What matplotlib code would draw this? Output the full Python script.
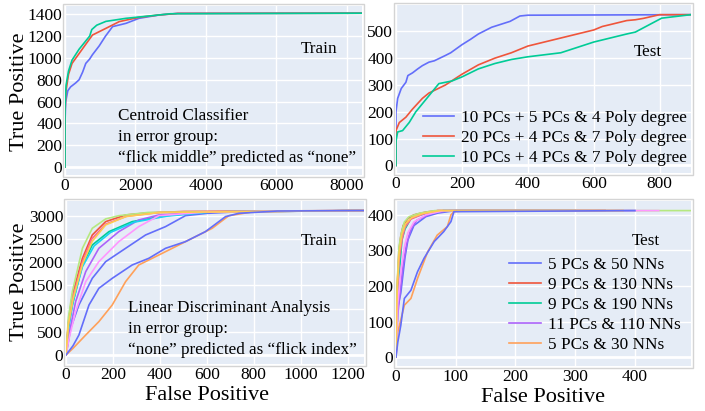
import matplotlib
matplotlib.use("Agg")
import matplotlib.pyplot as plt
from matplotlib.patches import Rectangle

plt.rcParams['font.family'] = ['Liberation Serif', 'DejaVu Serif']

# plotly-like palette
colors = ["#636EFA", "#EF553B", "#00CC96", "#AB63FA", "#FFA15A",
          "#19D3F3", "#FF6692", "#B6E880", "#FF97FF", "#FECB52", "#636EFA"]

# ---- top left: Centroid Classifier, train
cc_train_fp = [
    [0, 0, 20, 80, 160, 300, 400, 500, 590, 700, 780, 970, 1150, 1350, 1730, 2100, 2680, 3200, 8430],
    [0, 0, 30, 100, 200, 400, 600, 780, 1160, 1540, 2100, 2680, 3200, 8430],
    [0, 0, 30, 100, 200, 400, 600, 700, 760, 900, 1160, 1730, 2400, 3000, 8430],
]
cc_train_tp = [
    [0, 400, 600, 700, 735, 770, 800, 870, 950, 990, 1030, 1110, 1200, 1287, 1317, 1363, 1394, 1408, 1410],
    [0, 500, 700, 850, 950, 1040, 1130, 1210, 1271, 1333, 1372, 1394, 1408, 1410],
    [0, 550, 750, 880, 980, 1080, 1160, 1200, 1260, 1300, 1335, 1363, 1385, 1405, 1410],
]

# ---- top right: Centroid Classifier, test
cc_test_labels = ["10 PCs + 5 PCs & 4 Poly degree",
                  "20 PCs + 4 PCs & 7 Poly degree",
                  "10 PCs + 4 PCs & 7 Poly degree"]
cc_test_fp = [
    [0, 0, 5, 16, 30, 36, 50, 66, 80, 100, 116, 150, 166, 200, 226, 250, 266, 290, 346, 376, 400, 895],
    [0, 0, 10, 30, 50, 80, 100, 150, 200, 250, 300, 350, 400, 500, 600, 626, 650, 700, 726, 750, 800, 895],
    [0, 0, 5, 20, 40, 60, 80, 100, 120, 130, 170, 200, 250, 300, 350, 400, 500, 550, 600, 700, 726, 806, 895],
]
cc_test_tp = [
    [0, 200, 250, 287, 310, 335, 345, 360, 372, 385, 390, 410, 420, 450, 470, 490, 500, 515, 537, 557, 560, 562],
    [0, 130, 160, 180, 210, 250, 270, 300, 340, 375, 400, 420, 445, 475, 505, 518, 525, 540, 543, 548, 562, 562],
    [0, 90, 125, 130, 160, 200, 230, 260, 290, 305, 315, 330, 360, 380, 395, 405, 420, 440, 460, 490, 497, 549, 562],
]

# ---- bottom left: LDA, train
lda_train_fp = [
    [0, 20, 55, 112, 169, 254, 339, 424, 509, 600, 800, 1270],
    [0, 10, 27, 70, 112, 169, 254, 350, 500, 1270],
    [0, 10, 27, 70, 112, 183, 282, 424, 600, 1270],
    [0, 15, 41, 84, 140, 225, 310, 396, 600, 1270],
    [0, 30, 84, 140, 197, 254, 310, 396, 481, 566, 623, 694, 793, 1000, 1270],
    [0, 10, 30, 70, 120, 190, 290, 430, 620, 1270],
    [0, 10, 30, 70, 110, 170, 260, 400, 1270],
    [0, 10, 27, 70, 112, 169, 225, 350, 1270],
    [0, 15, 41, 84, 140, 225, 310, 396, 600, 1270],
    [0, 10, 30, 70, 112, 169, 254, 400, 1270],
    [0, 30, 55, 98, 140, 197, 282, 353, 424, 509, 594, 680, 737, 900, 1270],
]
lda_train_tp = [
    [0, 574, 1077, 1651, 2010, 2297, 2584, 2764, 3000, 3050, 3100, 3110],
    [0, 700, 1292, 2082, 2584, 2872, 3015, 3060, 3090, 3110],
    [0, 600, 1077, 1938, 2369, 2656, 2872, 3000, 3080, 3110],
    [0, 500, 1149, 1795, 2297, 2656, 2907, 3015, 3080, 3110],
    [0, 144, 430, 718, 1077, 1580, 1938, 2154, 2369, 2584, 2728, 3000, 3080, 3105, 3110],
    [0, 550, 1150, 1900, 2350, 2640, 2860, 2990, 3080, 3110],
    [0, 650, 1250, 2000, 2500, 2820, 2990, 3070, 3110],
    [0, 800, 1364, 2297, 2728, 2930, 3000, 3070, 3110],
    [0, 400, 933, 1580, 2010, 2441, 2764, 3000, 3080, 3110],
    [0, 650, 1200, 1950, 2450, 2800, 2980, 3070, 3110],
    [0, 200, 430, 1077, 1436, 1651, 1938, 2082, 2297, 2441, 2656, 2980, 3051, 3100, 3110],
]

# ---- bottom right: LDA, test
lda_test_labels = ["5 PCs & 50 NNs", "9 PCs & 130 NNs", "9 PCs & 190 NNs",
                   "11 PCs & 110 NNs", "5 PCs & 30 NNs"]
lda_test_fp = [
    [0, 3, 8, 15, 20, 30, 50, 70, 100, 400],
    [0, 2, 5, 8, 12, 20, 30, 50, 70, 300],
    [0, 3, 6, 10, 15, 25, 40, 80, 350],
    [0, 3, 8, 12, 18, 25, 35, 60, 90, 350],
    [0, 3, 14, 25, 36, 53, 69, 86, 92, 97, 120, 380],
    [0, 2, 6, 10, 16, 25, 45, 80, 300],
    [0, 2, 5, 10, 15, 25, 45, 70, 350],
    [0, 2, 5, 9, 14, 22, 40, 65, 494],
    [0, 3, 8, 14, 20, 30, 50, 80, 440],
    [0, 2, 5, 10, 16, 26, 45, 75, 380],
    [0, 3, 8, 14, 25, 36, 47, 64, 80, 92, 97, 400],
]
lda_test_tp = [
    [0, 140, 180, 280, 330, 370, 395, 405, 412, 412],
    [0, 200, 300, 340, 370, 390, 400, 408, 412, 412],
    [0, 200, 250, 330, 360, 390, 400, 412, 412],
    [0, 120, 200, 260, 320, 360, 385, 405, 412, 412],
    [0, 70, 146, 165, 221, 296, 343, 367, 400, 409, 412, 412],
    [0, 180, 280, 340, 370, 390, 402, 412, 412],
    [0, 170, 270, 330, 365, 388, 402, 412, 412],
    [0, 210, 310, 350, 380, 395, 405, 412, 412],
    [0, 150, 240, 310, 350, 380, 400, 412, 412],
    [0, 190, 290, 345, 375, 392, 404, 412, 412],
    [0, 42, 89, 165, 188, 240, 278, 325, 353, 381, 409, 412],
]

W, H = 705, 411
fig = plt.figure(figsize=(W / 100, H / 100), dpi=100)


def make_ax(x0, y0, x1, y1):
    # pixel box -> figure axes, with a light frame around it
    ax = fig.add_axes([x0 / W, 1 - y1 / H, (x1 - x0) / W, (y1 - y0) / H])
    ax.set_facecolor("#E5ECF6")
    for s in ax.spines.values():
        s.set_visible(False)
    ax.grid(True, color="white", lw=1)
    ax.set_axisbelow(True)
    ax.tick_params(length=0, labelsize=12.5, pad=2)
    ax.axhline(0, color="white", lw=2, zorder=0.5)
    fig.patches.append(Rectangle(((x0 - 2) / W, 1 - (y1 + 2) / H), (x1 - x0 + 4) / W,
                                 (y1 - y0 + 4) / H, transform=fig.transFigure,
                                 fill=False, ec="#D4D4D4", lw=1))
    return ax


ax1 = make_ax(65, 6, 362, 175)
ax2 = make_ax(396, 5, 691, 173)
ax3 = make_ax(66, 201, 364, 364)
ax4 = make_ax(396, 201, 691, 366)

fs_txt = 12.3
leg_kw = dict(loc="upper left", frameon=False, fontsize=12.4, borderpad=0, borderaxespad=0,
              handlelength=1.85, handletextpad=0.4, labelspacing=0.22)

for i in range(3):
    ax1.plot(cc_train_fp[i], cc_train_tp[i], color=colors[i], lw=1.2)
ax1.set_xlim(0, 8430)
ax1.set_ylim(-73, 1476)
ax1.set_xticks([0, 2000, 4000, 6000, 8000])
ax1.set_yticks(range(0, 1401, 200))
ax1.text(0.855, 0.746, "Train", transform=ax1.transAxes, ha="center", va="center", fontsize=fs_txt)
ax1.text(0.178, 0.225, "Centroid Classifier\nin error group:\n\u201cflick middle\u201d predicted as \u201cnone\u201d",
         transform=ax1.transAxes, ha="left", va="center", fontsize=fs_txt, linespacing=1.38)

for i in range(3):
    ax2.plot(cc_test_fp[i], cc_test_tp[i], color=colors[i], lw=1.2, label=cc_test_labels[i])
ax2.set_xlim(0, 895)
ax2.set_ylim(-28, 598)
ax2.set_xticks([0, 200, 400, 600, 800])
ax2.set_yticks([0, 100, 200, 300, 400, 500])
ax2.text(0.854, 0.72, "Test", transform=ax2.transAxes, ha="center", va="center", fontsize=fs_txt)
ax2.legend(bbox_to_anchor=(0.09, 0.375), **leg_kw)

for i in range(len(lda_train_fp)):
    ax3.plot(lda_train_fp[i], lda_train_tp[i], color=colors[i], lw=1.2)
ax3.set_xlim(0, 1270)
ax3.set_ylim(-194, 3316)
ax3.set_xticks(range(0, 1201, 200))
ax3.set_yticks(range(0, 3001, 500))
ax3.text(0.849, 0.755, "Train", transform=ax3.transAxes, ha="center", va="center", fontsize=fs_txt)
ax3.text(0.208, 0.215, "Linear Discriminant Analysis\nin error group:\n\u201cnone\u201d predicted as \u201cflick index\u201d",
         transform=ax3.transAxes, ha="left", va="center", fontsize=fs_txt, linespacing=1.38)

lines = []
for i in range(len(lda_test_fp)):
    ln, = ax4.plot(lda_test_fp[i], lda_test_tp[i], color=colors[i], lw=1.2)
    lines.append(ln)
ax4.set_xlim(0, 494)
ax4.set_ylim(-25, 439)
ax4.set_xticks([0, 100, 200, 300, 400])
ax4.set_yticks([0, 100, 200, 300, 400])
ax4.text(0.847, 0.758, "Test", transform=ax4.transAxes, ha="center", va="center", fontsize=fs_txt)
ax4.legend(lines[:5], lda_test_labels, bbox_to_anchor=(0.383, 0.66), **leg_kw)

fig.text(20 / W, 1 - 92 / H, "True Positive", rotation=90, ha="center", va="center", fontsize=16)
fig.text(20 / W, 1 - 282 / H, "True Positive", rotation=90, ha="center", va="center", fontsize=16)
fig.text(207 / W, 1 - 395 / H, "False Positive", ha="center", va="center", fontsize=16)
fig.text(543 / W, 1 - 397 / H, "False Positive", ha="center", va="center", fontsize=16)

fig.savefig("out.png", dpi=100)
